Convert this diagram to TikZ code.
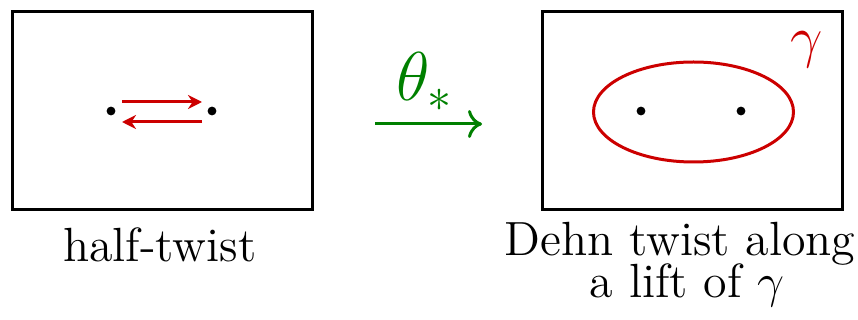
\documentclass[tikz,border=0pt]{standalone}
\usetikzlibrary{arrows.meta}
\definecolor{cred}{RGB}{204,0,0}
\definecolor{cgreen}{RGB}{0,128,0}
\begin{document}
\begin{tikzpicture}[x=0.25pt,y=-0.25pt,
  frame/.style={draw,line width=0.75pt},
  dot/.style={circle,fill=black,inner sep=0pt,minimum size=2.2pt},
  redarr/.style={draw=cred,line width=0.75pt,-{Stealth[length=3.5pt,width=3.5pt]}},
  lbl/.style={font=\large,align=center,inner sep=0pt}]
\useasboundingbox (0,0) rectangle (858,320);
\node[frame,minimum width=75pt,minimum height=49.5pt,inner sep=0pt] (L) at (162,111) {};
\node[frame,minimum width=75pt,minimum height=49.5pt,inner sep=0pt] (R) at (692,111) {};
\node[dot] (a1) at (111,111) {};
\node[dot] (a2) at (212,111) {};
\draw[redarr] ([shift={(11,-9)}]a1.center) -- ([shift={(-10,-9)}]a2.center);
\draw[redarr] ([shift={(-10,11)}]a2.center) -- ([shift={(11,11)}]a1.center);
\node[dot] (b1) at (641,111) {};
\node[dot] (b2) at (741,111) {};
\draw[cred,line width=0.75pt] (693.5,112) ellipse [x radius=100, y radius=50];
\node[text=cred,font=\Large,inner sep=0pt] (g) at (807,50) {$\gamma$};
\coordinate (s) at (375,124);
\coordinate (t) at (482,124);
\draw[cgreen,line width=0.75pt,-{To[length=3.5pt,width=7pt]}] (s) -- (t);
\node[text=cgreen,font=\LARGE,inner sep=0pt] (th) at (425,82) {$\theta_*$};
\node[lbl,anchor=base] (lh) at (160,262) {half-twist};
\node[lbl,anchor=base] (ld) at (680,256) {Dehn twist along};
\node[lbl,anchor=base] (ll) at (687,298) {a lift of $\gamma$};
\end{tikzpicture}
\end{document}
